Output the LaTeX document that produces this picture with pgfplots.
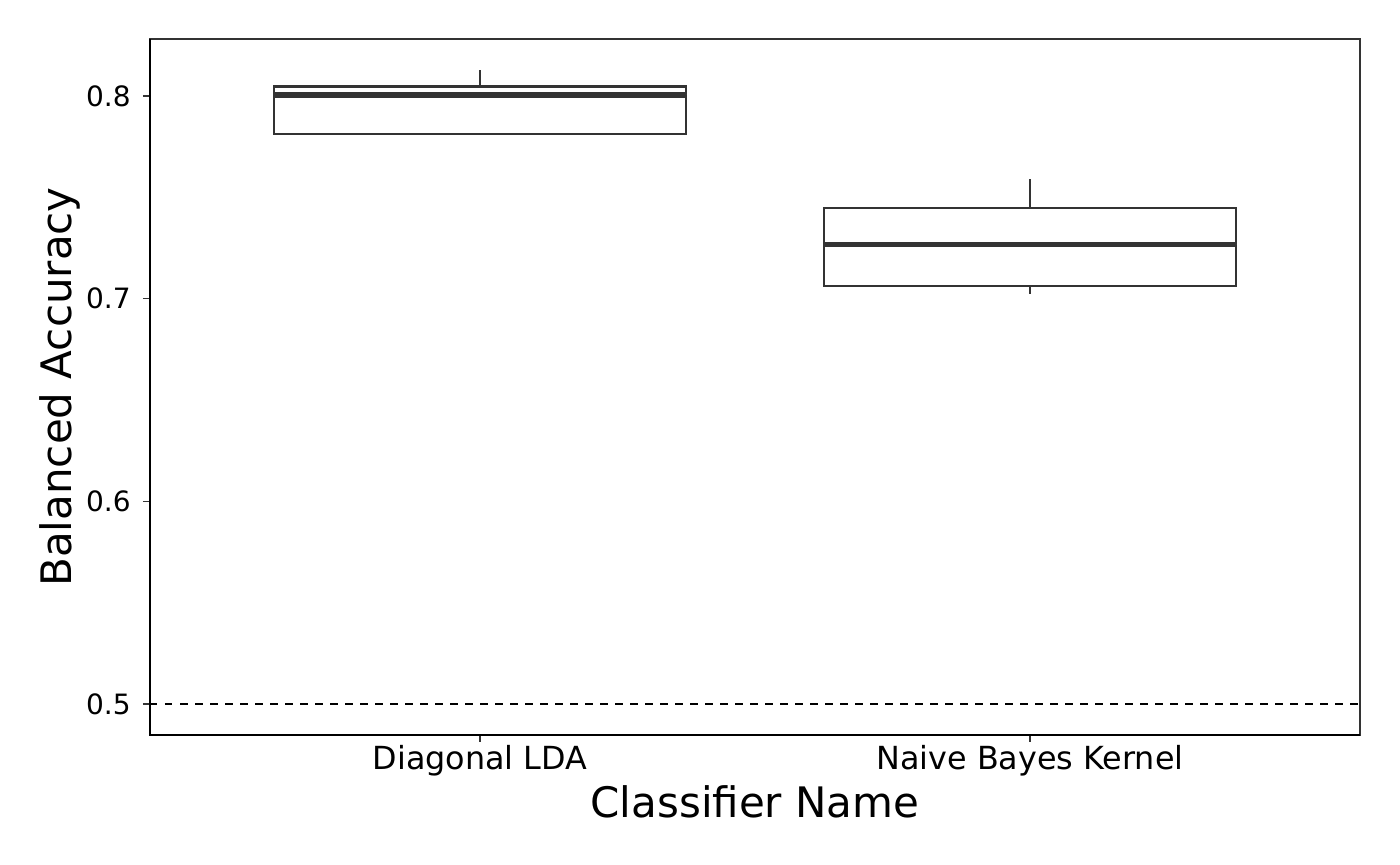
\documentclass[border=0pt]{standalone}
\usepackage{pgfplots}
\pgfplotsset{compat=1.18}
\usepgfplotslibrary{statistics}
\usepackage{fontspec}
\setmainfont{DejaVu Sans}
\definecolor{boxgray}{HTML}{333333}
\begin{document}
\begin{tikzpicture}
\useasboundingbox (-75pt,-65pt) rectangle (625pt,367.5pt);
\begin{axis}[
  at={(0,0)}, anchor=south west,
  scale only axis, width=605pt, height=348pt,
  xmin=0.4, xmax=2.6, ymin=0.4847, ymax=0.8281,
  xtick={1,2}, xticklabels={Diagonal LDA, Naive Bayes Kernel},
  ytick={0.5,0.6,0.7,0.8}, yticklabels={0.5,0.6,0.7,0.8},
  tick pos=left, tick align=outside,
  major tick length=3.5pt,
  tick style={boxgray, line width=0.8pt},
  axis line style={boxgray, line width=1pt},
  yticklabel style={font=\fontsize{14}{16}\selectfont, text=black, anchor=east, inner sep=0pt, xshift=-6pt},
  xticklabel style={font=\fontsize{15.9}{18}\selectfont, text=black, anchor=base, inner sep=0pt, yshift=-14pt},
  xlabel={Classifier Name}, ylabel={Balanced Accuracy},
  label style={font=\fontsize{21}{25}\selectfont},
  xlabel style={at={(axis description cs:0.5,-0.11925)}, anchor=base},
  ylabel style={at={(axis description cs:-0.0645,0.5)}, anchor=base, rotate=0},
  boxplot/draw direction=y,
  boxplot/every median/.style={line width=2.6pt},
  clip=false,
]
\addplot[black, line width=1pt, dash pattern=on 3.75pt off 3.75pt] coordinates {(0.4,0.5) (2.6,0.5)};
\addplot[boxplot prepared={lower whisker=0.7810, lower quartile=0.7811, median=0.8005, upper quartile=0.8046, upper whisker=0.8128, draw position=1, box extend=0.75, whisker extend=0}, draw=boxgray, line width=1.15pt, fill=white, solid, mark=none] coordinates {};
\addplot[boxplot prepared={lower whisker=0.7023, lower quartile=0.7061, median=0.7266, upper quartile=0.7447, upper whisker=0.7592, draw position=2, box extend=0.75, whisker extend=0}, draw=boxgray, line width=1.15pt, fill=white, solid, mark=none] coordinates {};
\draw[black, line width=1pt] (rel axis cs:0,1) -- (rel axis cs:0,0) -- (rel axis cs:1,0);
\end{axis}
\end{tikzpicture}
\end{document}
